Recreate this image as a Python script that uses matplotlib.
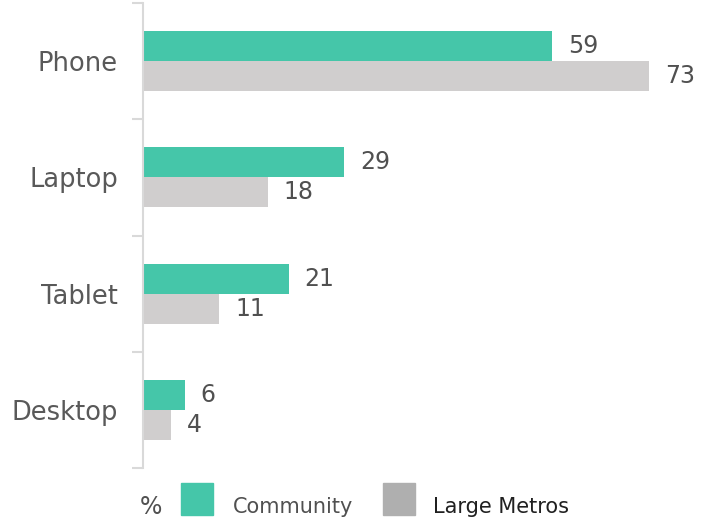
import matplotlib
matplotlib.use("Agg")
import matplotlib.pyplot as plt
from matplotlib.patches import Rectangle
import numpy as np

categories = ["Phone", "Laptop", "Tablet", "Desktop"]
community = [59, 29, 21, 6]
large_metros = [73, 18, 11, 4]
series_names = ["Community", "Large Metros"]

green = "#45C6A9"
gray_bar = "#D0CECE"
gray_leg = "#AFAFAF"
txt = "#505050"
font = ["DejaVu Sans"]

fig = plt.figure(figsize=(7.08, 5.27), dpi=100)
ax = fig.add_axes([143/708, 1-468/527, 557/708, 465/527])

n = len(categories)
y = np.arange(n)
h = 0.2575
ax.barh(y - h/2, community, height=h, color=green)
ax.barh(y + h/2, large_metros, height=h, color=gray_bar)

for yi, v in zip(y, community):
    ax.text(v + 2.3, yi - h/2, str(v), va="center", ha="left", fontsize=17, color=txt, family=font)
for yi, v in zip(y, large_metros):
    ax.text(v + 2.3, yi + h/2, str(v), va="center", ha="left", fontsize=17, color=txt, family=font)

ax.set_xlim(0, 557/6.93)
ax.set_ylim(n - 0.5, -0.5)
ax.set_yticks(y)
ax.set_yticklabels(categories, fontsize=18.5, color="#595959", family=font)
ax.tick_params(axis="y", which="major", length=0, pad=18)
ax.set_yticks(np.arange(-0.5, n, 1.0), minor=True)
ax.tick_params(axis="y", which="minor", length=8, color="#D9D9D9", width=1.5)
ax.set_xticks([])
for s in ["top", "right", "bottom"]:
    ax.spines[s].set_visible(False)
ax.spines["left"].set_color("#D9D9D9")
ax.spines["left"].set_linewidth(1.5)

W, H = 708, 527
def fx(px): return px / W
def fy(py): return 1 - py / H

fig.text(fx(151), fy(507), "%", fontsize=17, color=txt, family=font, ha="center", va="center")
fig.patches.append(Rectangle((fx(181), fy(515)), fx(32), 32/H, transform=fig.transFigure, color=green))
fig.text(fx(233), fy(507), series_names[0], fontsize=15, color=txt, family=font, ha="left", va="center")
fig.patches.append(Rectangle((fx(383), fy(515)), fx(32), 32/H, transform=fig.transFigure, color=gray_leg))
fig.text(fx(433), fy(507), series_names[1], fontsize=15, color="#202020", family=font, ha="left", va="center")

fig.savefig("out.png", dpi=100)
